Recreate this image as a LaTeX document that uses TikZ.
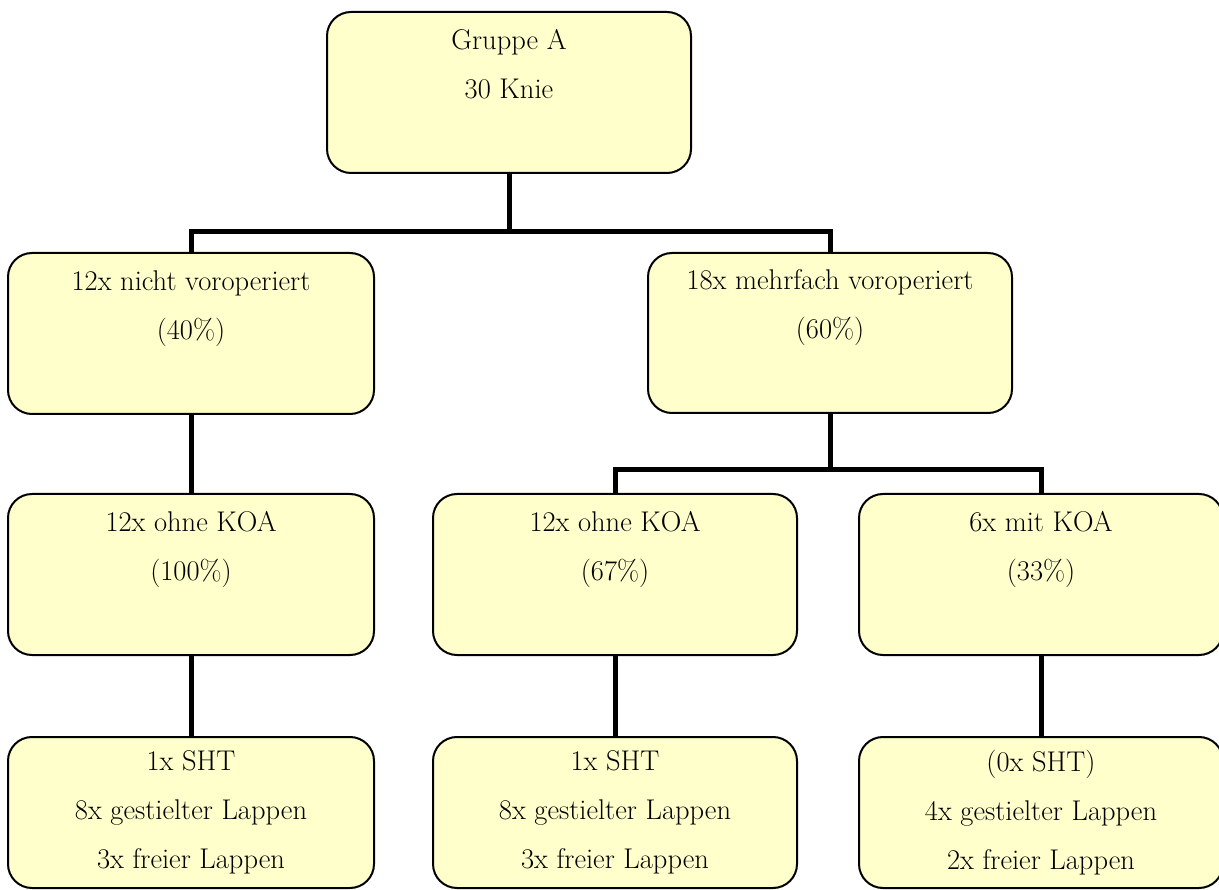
\documentclass[tikz,border=0pt]{standalone}
\usepackage{fontspec}
\usetikzlibrary{calc}
\definecolor{boxfill}{HTML}{FFFFCC}
\tikzset{
  box/.style={draw=black, line width=2pt, fill=boxfill, rounded corners=24pt,
    minimum width=364pt, minimum height=161pt, inner sep=0pt,
    align=center, font=\fontsize{28.5}{49}\selectfont},
  conn/.style={draw=black, line width=5pt},
}
\begin{document}
\begin{tikzpicture}[x=1pt, y=-1pt]
  \useasboundingbox (0,0) rectangle (1219,890);
  \clip (0,0) rectangle (1219,890);

  % level 0
  \node[box] (top) at (509,92.5) {Gruppe A\\30 Knie\\[-6pt]\strut};

  % level 1
  \node[box, minimum width=366pt] (l1) at (191,333.5) {12x nicht voroperiert\\(40\%)\\[-6pt]\strut};
  \node[box, minimum height=160pt] (r1) at (830,333) {18x mehrfach voroperiert\\(60\%)\\[-6pt]\strut};

  % level 2
  \node[box, minimum width=366pt] (l2) at (191,574.5) {12x ohne KOA\\(100\%)\\[-6pt]\strut};
  \node[box] (m2) at (615,574.5) {12x ohne KOA\\(67\%)\\[-6pt]\strut};
  \node[box] (r2) at (1041,574.5) {6x mit KOA\\(33\%)\\[-6pt]\strut};

  % level 3
  \node[box, minimum width=366pt, minimum height=151pt] (l3) at (191,812.5) {1x SHT\\8x gestielter Lappen\\3x freier Lappen};
  \node[box, minimum height=151pt] (m3) at (615,812.5) {1x SHT\\8x gestielter Lappen\\3x freier Lappen};
  \node[box, minimum height=151pt] (r3) at (1041,812.5) {(0x SHT)\\4x gestielter Lappen\\2x freier Lappen};

  % connectors
  \coordinate (ja) at (509,232);
  \draw[conn] (top.south) -- (ja) -| (l1.north);
  \draw[conn] (ja) -| (r1.north);

  \coordinate (jb) at (830,470);
  \draw[conn] (r1.south) -- (jb) -| (m2.north);
  \draw[conn] (jb) -| (r2.north);

  \draw[conn] (l1.south) -- (l2.north);
  \draw[conn] (l2.south) -- (l3.north);
  \draw[conn] (m2.south) -- (m3.north);
  \draw[conn] (r2.south) -- (r3.north);
\end{tikzpicture}
\end{document}
